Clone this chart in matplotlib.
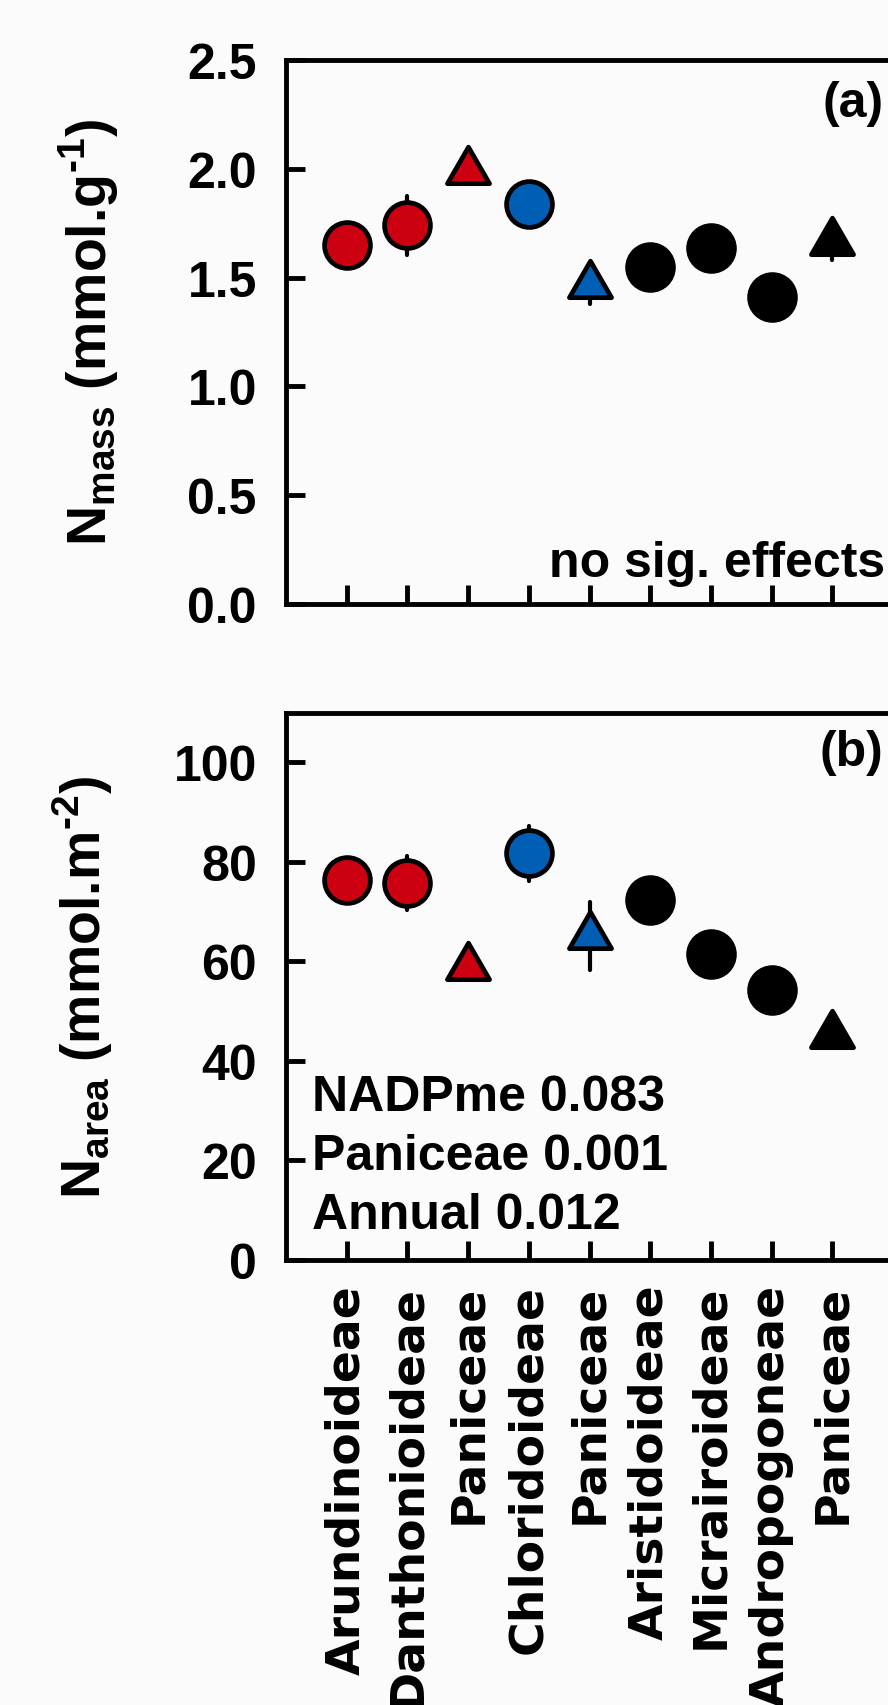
import matplotlib
matplotlib.use('Agg')
import matplotlib.pyplot as plt
import numpy as np
from matplotlib.path import Path
from matplotlib.markers import MarkerStyle

# ------------------------------------------------------------------------------
# Data
categories = ['Arundinoideae', 'Danthonioideae', 'Paniceae', 'Chloridoideae',
              'Paniceae', 'Aristidoideae', 'Micrairoideae', 'Andropogoneae',
              'Paniceae']
groups = ['red', 'red', 'red', 'blue', 'blue', 'black', 'black', 'black', 'black']
shapes = ['o', 'o', '^', 'o', '^', 'o', 'o', 'o', '^']

nmass = [1.65, 1.74, 1.99, 1.84, 1.465, 1.55, 1.635, 1.41, 1.663]
nmass_se = [0.04, 0.135, 0.04, 0.05, 0.087, 0.04, 0.04, 0.04, 0.082]

narea = [76.3, 75.8, 58.8, 81.7, 65.1, 72.3, 61.4, 54.3, 45.1]
narea_se = [3.0, 5.4, 2.0, 5.5, 6.9, 2.0, 2.0, 2.0, 2.0]

stats_b = ['NADPme 0.083', 'Paniceae 0.001', 'Annual 0.012']

# ------------------------------------------------------------------------------
plt.rcParams['font.family'] = ['Liberation Sans', 'DejaVu Sans']
plt.rcParams['font.weight'] = 'bold'
plt.rcParams['mathtext.fontset'] = 'custom'
plt.rcParams['mathtext.rm'] = 'Liberation Sans'
plt.rcParams['mathtext.bf'] = 'Liberation Sans:bold'

colors = {'red': '#cc0010', 'blue': '#005eb5', 'black': '#000000'}
bg = '#fbfbfb'
Linewidth = 3.5

# triangle centred on its centroid
tri = MarkerStyle(Path([(0, 1), (-0.866, -0.5), (0.866, -0.5), (0, 1)],
                       [Path.MOVETO, Path.LINETO, Path.LINETO, Path.CLOSEPOLY]),
                  joinstyle='miter')

x = np.arange(1, len(categories) + 1)

fig = plt.figure(figsize=(8.88, 17.06), dpi=100, facecolor=bg)
ax1 = fig.add_axes([0.3221, 0.6454, 0.6836, 0.3189], facecolor=bg)
ax2 = fig.add_axes([0.3221, 0.2611, 0.6836, 0.3206], facecolor=bg)


def draw(ax, vals, errs):
    eb = ax.errorbar(x, vals, yerr=errs, fmt='none', ecolor='black',
                     elinewidth=3, capsize=0, zorder=2)
    for lc in eb[2]:
        lc.set_capstyle('round')
    for xi, v, g, s in zip(x, vals, groups, shapes):
        if s == 'o':
            ax.plot(xi, v, marker='o', ms=33, mew=3.4, mfc=colors[g],
                    mec='black', linestyle='none', zorder=3)
        else:
            ax.plot(xi, v, marker=tri, ms=35, mew=3.4, mfc=colors[g],
                    mec='black', linestyle='none', zorder=3)
    ax.set_xlim(0, 10)
    ax.set_xticks(x)
    for side in ['left', 'bottom', 'top', 'right']:
        ax.spines[side].set_linewidth(Linewidth)
    ax.tick_params(axis='both', direction='in', length=13.5, width=Linewidth,
                   labelsize=36)
    ax.tick_params(axis='y', pad=21)
    ax.tick_params(axis='x', pad=17.5)


draw(ax1, nmass, nmass_se)
ax1.set_ylim(0, 2.5)
ax1.set_yticks(np.arange(0, 2.51, 0.5))
ax1.set_yticklabels(['%.1f' % v for v in np.arange(0, 2.51, 0.5)])
ax1.set_xticklabels([])
ax1.set_ylabel(r'N$_{\mathrm{mass}}$ (mmol.g$^{\text{-1}}$)', fontsize=40,
               fontweight='bold')
ax1.yaxis.set_label_coords(-0.272, 0.5)
ax1.text(9.84, 2.30, '(a)', fontsize=36, ha='right', va='center')
ax1.text(9.87, 0.13, 'no sig. effects', fontsize=36, ha='right', va='baseline')

draw(ax2, narea, narea_se)
ax2.set_ylim(0, 110)
ax2.set_yticks(np.arange(0, 101, 20))
ax2.set_xticklabels(categories, rotation=90, fontsize=34,
                    family='DejaVu Sans', fontweight='bold')
ax2.set_ylabel(r'N$_{\mathrm{area}}$ (mmol.m$^{\text{-2}}$)', fontsize=40,
               fontweight='bold')
ax2.yaxis.set_label_coords(-0.282, 0.5)
ax2.text(9.84, 102, '(b)', fontsize=36, ha='right', va='center')
for i, s in enumerate(stats_b):
    ax2.text(0.42, 30.1 - i * 11.9, s, fontsize=36, ha='left', va='baseline')

fig.savefig('out.png', dpi=100, facecolor=bg)
